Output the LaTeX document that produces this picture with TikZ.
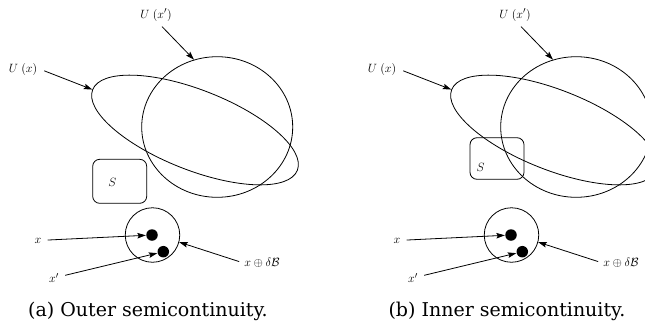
\documentclass[tikz,border=0pt]{standalone}
\usepackage{fontspec}
\newfontfamily\capfont{DejaVu Serif}
\usetikzlibrary{arrows.meta,shapes.geometric}
\begin{document}
\begin{tikzpicture}[x=1pt,y=-1pt,line width=0.8pt,
  lab/.style={inner sep=2pt,font=\fontsize{13}{15}\selectfont},
  captext/.style={inner sep=0pt,font=\capfont\fontsize{19}{22}\selectfont},
  arr/.style={-{Stealth[length=8.5pt,width=5.5pt,inset=1.5pt]}},
  dot/.style={circle,fill=black,minimum size=11.5pt,inner sep=0pt},
  setbox/.style={draw,rounded corners=7pt,inner sep=0pt,minimum width=54pt}]
\useasboundingbox (0,0) rectangle (645,330);
\clip (0,0) rectangle (645,330);
\newcommand\mypanel{%
  \node[ellipse,draw,inner sep=0pt,minimum width=151pt,minimum height=140.6pt] (circ) at (217.2,127) {};
  \node[ellipse,draw,inner sep=0pt,minimum width=220pt,minimum height=80pt,rotate=-21.5] (uell) at (195,130) {};
  \node[lab] (ux) at (23,69) {$U\;(x)$};
  \node[lab] (uxp) at (156,15) {$U\;(x')$};
  \node[circle,draw,inner sep=0pt,minimum size=54.5pt] (ball) at (152.5,235) {};
  \node[dot] (d1) at (152,235) {};
  \node[dot] (d2) at (163.3,251.7) {};
  \node[lab] (x) at (38,240.5) {$x$};
  \node[lab] (xp) at (54,278) {$x'$};
  \node[lab] (xb) at (262,262.5) {$x\oplus\delta\mathcal{B}$};
  \draw[arr,shorten <=5pt] (ux.east) -- (uell.west);
  \draw[arr] ([xshift=6pt,yshift=-3pt]uxp.south) -- (circ.109);
  \draw[arr,shorten <=4pt] (x) -- (d1);
  \draw[arr,shorten <=4pt] (xp) -- (d2);
  \draw[arr,shorten <=3pt] (xb.west) -- (ball.-15);
}
\begin{scope}[name prefix=a-]
  \mypanel
  \node[setbox,minimum height=44pt] (sbox) at (119.7,181.3) {};
  \node[lab] (s) at (112.3,182.3) {$S$};
  \node[captext] (caption) at (148,311) {(a) Outer semicontinuity.};
\end{scope}
\begin{scope}[xshift=359pt,name prefix=b-]
  \mypanel
  \node[setbox,minimum height=41.6pt] (sbox) at (138,158.5) {};
  \node[lab] (s) at (121.7,167.7) {$S$};
  \node[captext] (caption) at (148,311) {(b) Inner semicontinuity.};
\end{scope}
\end{tikzpicture}
\end{document}
